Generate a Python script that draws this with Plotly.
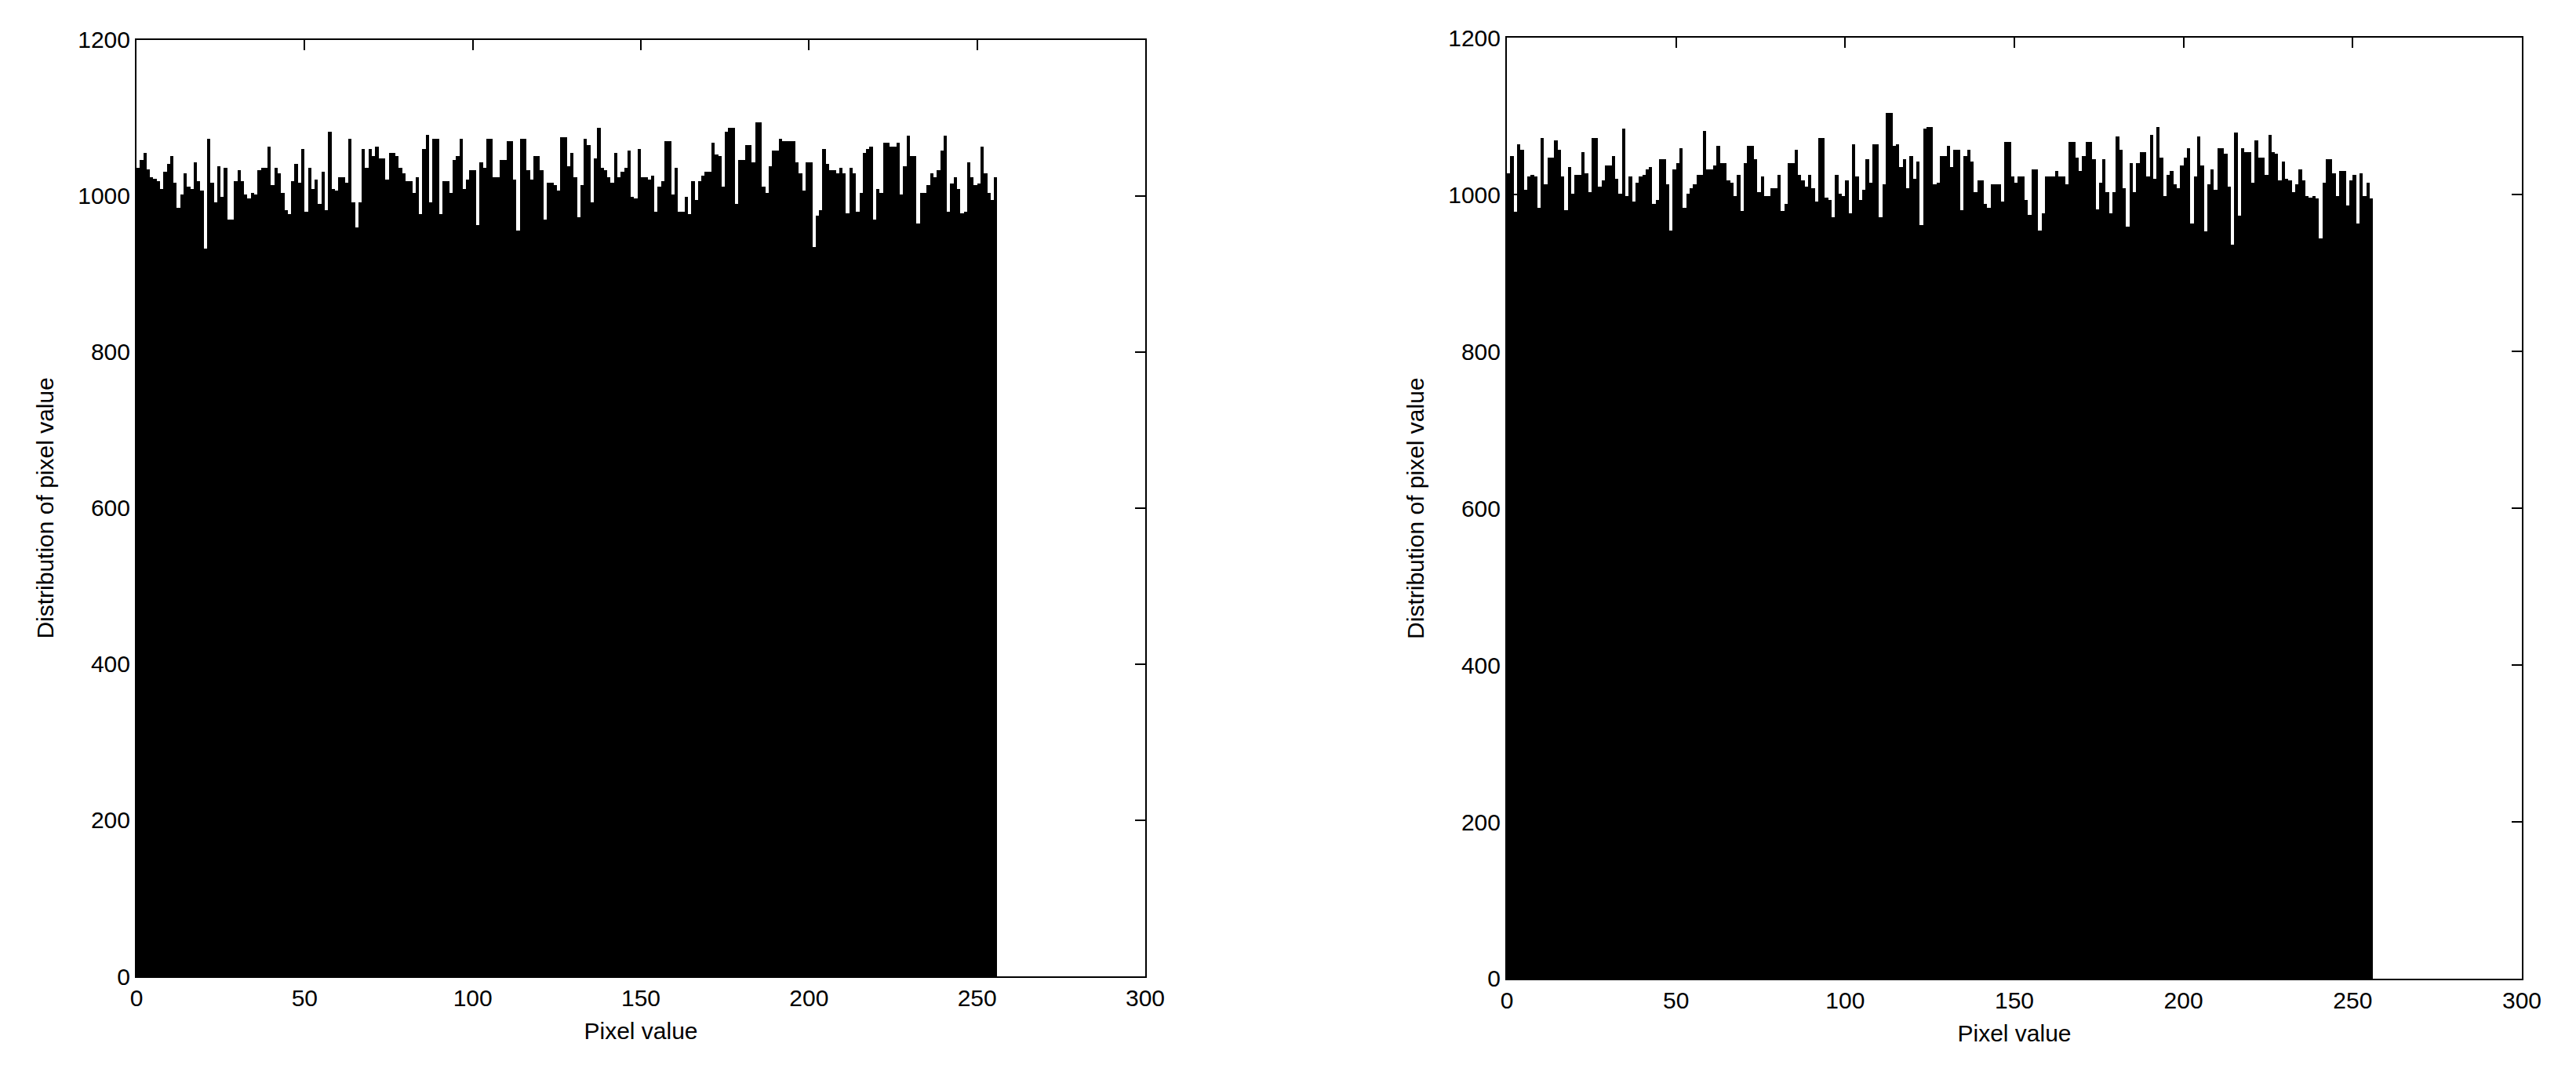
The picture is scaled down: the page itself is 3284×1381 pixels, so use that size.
import plotly.graph_objects as go

# pixel value categories (bins 0..255)
pixel_values = list(range(256))

# left histogram counts
left_counts = [
    1036,1046,1055,1034,1024,1022,1019,1009,1031,1041,
    1051,1017,985,1002,1029,1012,1009,1043,1019,1007,
    933,1073,1017,992,1038,999,1036,970,970,1019,
    1033,1019,1002,997,1004,1002,1033,1036,1036,1063,
    1014,1036,1029,1004,982,977,1019,1041,1017,1060,
    980,1036,1009,1021,990,1031,982,1082,1009,1007,
    1024,1024,1017,1073,
    992,960,992,1060,1036,1060,1051,1063,1048,1048,
    1021,1055,1055,1051,1036,1029,1019,1019,1004,1024,
    977,1060,1078,992,1073,1073,977,1019,1019,1004,
    1046,1051,1073,1009,1021,1033,1033,963,1043,1036,
    1073,1073,1024,1024,1046,1046,1070,1070,1021,956,
    1073,1073,1033,1021,1051,1051,1033,970,1017,1017,
    1014,1007,1075,1075,1038,
    1055,1024,973,1014,1073,1065,992,1048,1087,1036,
    1033,1024,1017,1055,1024,1031,1036,1058,999,997,
    1060,1024,1024,1021,1026,980,1012,1019,1070,1070,
    1002,1036,980,980,999,977,1019,995,1019,1026,
    1031,1031,1068,1053,1051,1012,1082,1087,1087,990,
    1046,1046,1065,1065,1043,1095,1095,1012,1004,1038,
    1058,1058,1073,1070,1070,
    1070,1070,
    1043,1029,1007,1043,1043,935,975,982,1060,1041,
    1033,1033,1029,1036,1029,978,1036,1029,980,1004,
    1055,1060,1063,970,1009,1004,1068,1068,1063,1063,
    1068,1002,1038,1077,1051,1051,965,1004,1004,1014,
    1029,1024,1033,1058,1077,980,1016,1024,1009,978,
    980,1043,1024,1014,1016,1063,1029,1004,995,1024,
]

# right histogram counts
right_counts = [
    1027,1049,978,1064,1057,1006,1023,1025,1023,983,
    1072,1013,1047,1047,1069,1057,1023,980,1035,1001,
    1025,1025,1054,1027,1003,1072,1072,1010,1018,1037,
    1037,1049,1020,1001,1084,998,1023,991,1015,1023,
    1025,1032,1035,988,993,1045,1045,1013,954,1032,
    1040,1059,983,1001,1008,1013,1025,1025,1081,1032,
    1032,1037,1062,1040,
    1040,1018,1015,998,1025,979,1040,1062,1062,1045,
    1003,1023,998,998,1008,1008,1025,979,988,1040,
    1040,1057,1025,1018,1010,1025,1008,991,1072,1072,
    996,993,971,1025,1001,998,1018,976,1064,1023,
    993,1006,1045,1015,1064,1064,971,1013,1104,1104,
    1062,1064,1035,1045,1008,1049,1020,1042,961,1084,
    1086,1086,1013,1015,
    1049,1049,1062,1035,1057,1057,980,1049,1057,1042,
    1003,1018,1018,988,983,1013,1013,1013,991,1067,
    1067,1023,1015,1023,1023,993,974,1032,1032,954,
    976,1023,1023,1023,1030,1023,1023,1013,1067,1067,
    1047,1030,1049,1067,1067,1045,981,1015,1045,1003,
    976,1003,1074,1057,1008,959,1040,1003,1040,1054,
    1054,1023,1076,1020,1086,
    1047,998,1025,1030,1013,1008,1037,1047,1059,963,
    1023,1074,1037,953,1013,1032,1006,1059,1059,1052,
    1010,936,1079,973,1059,1054,1054,1015,1069,1047,
    1047,1025,1076,1054,1052,1018,1042,1020,1018,1003,
    1013,1032,1018,998,996,998,995,944,1015,1045,
    1045,1027,998,1030,1030,986,1018,1025,963,1027,
    998,1015,995,
]

x_ticks = [0, 50, 100, 150, 200, 250, 300]
y_ticks = [0, 200, 400, 600, 800, 1000, 1200]
x_title = "Pixel value"
y_title = "Distribution of pixel value"

FONT = "Liberation Sans, Arial, sans-serif"

fig = go.Figure()
fig.add_trace(go.Bar(x=pixel_values, y=left_counts, offset=0, width=1,
                     marker=dict(color="black", line=dict(width=0)),
                     xaxis="x", yaxis="y", showlegend=False))
fig.add_trace(go.Bar(x=pixel_values, y=right_counts, offset=0, width=1,
                     marker=dict(color="black", line=dict(width=0)),
                     xaxis="x2", yaxis="y2", showlegend=False))

axis_common = dict(
    showline=True, linecolor="black", linewidth=2, mirror="ticks",
    ticks="inside", ticklen=13, tickwidth=1.5, tickcolor="black",
    showgrid=False, zeroline=False, automargin=False,
    tickfont=dict(family=FONT, size=30, color="black"),
)

fig.update_layout(
    width=3284, height=1381,
    margin=dict(l=0, r=0, t=0, b=0),
    paper_bgcolor="white", plot_bgcolor="white",
    bargap=0,
    xaxis=dict(domain=[0.05055, 0.44214], range=[0, 300], tickvals=x_ticks,
               anchor="y",
               title=dict(text=x_title, font=dict(family=FONT, size=30, color="black"), standoff=16),
               **axis_common),
    yaxis=dict(domain=[0.10427, 0.96908], range=[0, 1200], tickvals=y_ticks,
               anchor="x",
               title=dict(text=y_title, font=dict(family=FONT, size=30, color="black"), standoff=22),
               **axis_common),
    xaxis2=dict(domain=[0.58252, 0.97655], range=[0, 300], tickvals=x_ticks,
                anchor="y2",
                title=dict(text=x_title, font=dict(family=FONT, size=30, color="black"), standoff=16),
                **axis_common),
    yaxis2=dict(domain=[0.10210, 0.97080], range=[0, 1200], tickvals=y_ticks,
                anchor="x2",
                title=dict(text=y_title, font=dict(family=FONT, size=30, color="black"), standoff=22),
                **axis_common),
)

fig.write_html("out.html")
